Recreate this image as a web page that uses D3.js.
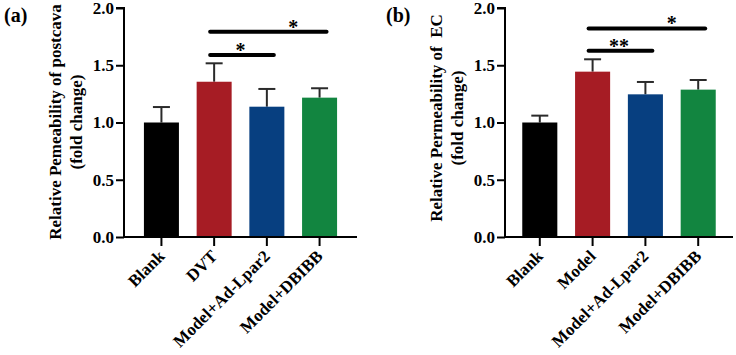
<!DOCTYPE html>
<html>
<head>
<meta charset="utf-8">
<script src="https://cdn.jsdelivr.net/npm/d3@7"></script>
<style>
  body { margin: 0; background: #fff; }
  svg text { font-family: "Liberation Serif", "Times New Roman", serif; font-weight: bold; white-space: pre; }
</style>
</head>
<body>
<svg id="chart" width="736" height="355"></svg>
<script>
// panel (a)
const groupsA = ["Blank", "DVT", "Model+Ad-Lpar2", "Model+DBIBB"];
const meansA = [1.0, 1.356, 1.138, 1.217];
const errorsA = [0.135, 0.161, 0.155, 0.082];
const sigA = [
  { from: 1, to: 2, y: 1.59, label: "*" },
  { from: 1, to: 3, y: 1.793, label: "*" }
];

// panel (b)
const groupsB = ["Blank", "Model", "Model+Ad-Lpar2", "Model+DBIBB"];
const meansB = [1.0, 1.444, 1.246, 1.287];
const errorsB = [0.06, 0.108, 0.108, 0.084];
const sigB = [
  { from: 1, to: 2, y: 1.627, label: "**" },
  { from: 1, to: 3, y: 1.822, label: "*" }
];

const yTicks = [0, 0.5, 1.0, 1.5, 2.0];
const barColors = ["#000000", "#a61c24", "#073f80", "#128540"];

const svg = d3.select("#chart");

function drawPanel(opt) {
  const g = svg.append("g");

  const y = d3.scaleLinear().domain([0, 2]).range([237, 8]);
  const x = d3.scaleBand()
    .domain(opt.groups)
    .range([opt.x0, opt.x1])
    .paddingInner(0.336)
    .paddingOuter(opt.outer);

  const data = opt.groups.map((k, i) => ({ k, v: opt.means[i], e: opt.errors[i], c: barColors[i] }));

  // error bars (upper only)
  const eb = g.selectAll(".err").data(data).enter().append("g")
    .attr("stroke", "#2a2a2a").attr("stroke-width", 2);
  eb.append("line")
    .attr("x1", d => x(d.k) + x.bandwidth() / 2)
    .attr("x2", d => x(d.k) + x.bandwidth() / 2)
    .attr("y1", d => y(d.v))
    .attr("y2", d => y(d.v + d.e));
  eb.append("line")
    .attr("x1", d => x(d.k) + x.bandwidth() / 2 - 8.5)
    .attr("x2", d => x(d.k) + x.bandwidth() / 2 + 8.5)
    .attr("y1", d => y(d.v + d.e))
    .attr("y2", d => y(d.v + d.e));

  g.selectAll(".bar").data(data).enter().append("rect")
    .attr("x", d => x(d.k))
    .attr("width", x.bandwidth())
    .attr("y", d => y(d.v))
    .attr("height", d => y(0) - y(d.v))
    .attr("fill", d => d.c);

  // axes
  const yAxis = g.append("g")
    .attr("transform", `translate(${opt.x0},0)`)
    .call(d3.axisLeft(y).tickValues(yTicks).tickFormat(d3.format(".1f")).tickSize(8).tickPadding(2));
  const xAxis = g.append("g")
    .attr("transform", `translate(0,${y(0)})`)
    .call(d3.axisBottom(x).tickSize(9).tickFormat(""));
  [yAxis, xAxis].forEach(a => {
    a.select(".domain").attr("stroke", "#000").attr("stroke-width", 2);
    a.selectAll(".tick line").attr("stroke", "#000").attr("stroke-width", 2);
  });
  yAxis.select(".domain").attr("d", `M-8,${y(2)}H0V${y(0)}`);
  xAxis.select(".domain").attr("d", `M${opt.x0},0H${opt.x1}`);
  yAxis.selectAll(".tick text")
    .attr("font-size", 17).attr("fill", "#000")
    .style("font-family", "Liberation Serif").style("font-weight", "bold");

  // rotated category labels
  g.selectAll(".xlab").data(opt.groups).enter().append("text")
    .attr("transform", d => `translate(${x(d) + x.bandwidth() / 2},${y(0) + 16}) rotate(-45)`)
    .attr("text-anchor", "end")
    .attr("dy", "0.35em")
    .attr("font-size", 17)
    .text(d => d);

  // y title
  const yt = g.append("text")
    .attr("transform", `translate(${opt.titleX},${opt.titleY}) rotate(-90)`)
    .attr("text-anchor", "middle")
    .attr("font-size", 17);
  yt.append("tspan").attr("x", 0).attr("dy", 0).text(opt.yTitle);
  yt.append("tspan").attr("x", 0).attr("dy", 21).text("(fold change)");

  // panel tag
  g.append("text")
    .attr("x", opt.tagX).attr("y", 22)
    .attr("font-size", 20)
    .text(opt.tag);

  // significance brackets
  const cx = i => x(opt.groups[i]) + x.bandwidth() / 2;
  g.selectAll(".sig").data(opt.sig).enter().append("line")
    .attr("x1", d => cx(d.from) - 4)
    .attr("x2", d => cx(d.to) + 7)
    .attr("y1", d => y(d.y))
    .attr("y2", d => y(d.y))
    .attr("stroke", "#000")
    .attr("stroke-width", 4)
    .attr("stroke-linecap", "round");
  g.selectAll(".sigt").data(opt.sig).enter().append("text")
    .attr("x", d => (cx(d.to - 1) + cx(d.to)) / 2)
    .attr("y", d => y(d.y) + 2)
    .attr("text-anchor", "middle")
    .attr("font-size", 20)
    .text(d => d.label);
}

drawPanel({
  groups: groupsA, means: meansA, errors: errorsA, sig: sigA,
  x0: 124, x1: 357, outer: 0.378,
  yTitle: "Relative Pemeability of postcava",
  titleX: 61, titleY: 122, tag: "(a)", tagX: 4
});

drawPanel({
  groups: groupsB, means: meansB, errors: errorsB, sig: sigB,
  x0: 505, x1: 733, outer: 0.327,
  yTitle: "Relative Permeability of  EC",
  titleX: 442, titleY: 118, tag: "(b)", tagX: 386
});
</script>
</body>
</html>
